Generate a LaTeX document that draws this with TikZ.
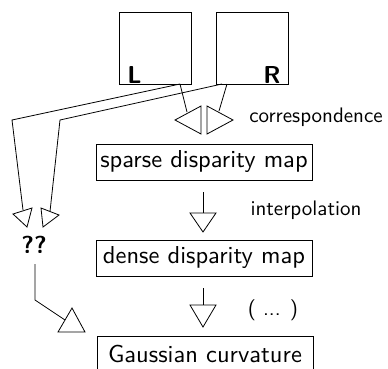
\documentclass[tikz,border=0pt]{standalone}
\usepackage{graphicx}
\newcommand{\boxtxt}[1]{\scalebox{2.45}{\sffamily\fontsize{10}{12}\selectfont #1}}
\newcommand{\lbltxt}[1]{\scalebox{2.1}{\sffamily\fontsize{10}{12}\selectfont #1}}
\newcommand{\bigtxt}[1]{\scalebox{2.45}{\sffamily\bfseries\fontsize{10}{12}\selectfont #1}}
\begin{document}
\begin{tikzpicture}[x=1pt,y=-1pt, line width=0.8pt, line join=miter,
  img/.style={draw, minimum width=72pt, minimum height=72pt, inner sep=0pt},
  mapbox/.style={draw, minimum width=216pt, minimum height=36pt, inner sep=0pt},
  lbl/.style={inner sep=0pt},
  big/.style={inner sep=0pt}]
\useasboundingbox (0,0) rectangle (388,368);
% images
\node[img] (L) at (155,48) {};
\node[img] (R) at (252,48) {};
\node[big, anchor=base west] (Lt) at (127,83) {\bigtxt{L}};
\node[big, anchor=base east] (Rt) at (281,83) {\bigtxt{R}};
% boxes
\node[mapbox] (sparse) at (204,162) {\boxtxt{sparse disparity map}};
\node[mapbox] (dense) at (204,258) {\boxtxt{dense disparity map}};
\node[mapbox] (gauss) at (205,354) {\boxtxt{Gaussian curvature}};
% labels
\node[lbl] (corr) at (316,117) {\lbltxt{correspondence}};
\node[lbl] (interp) at (306,210) {\lbltxt{interpolation}};
\node[lbl] (dots) at (273,310) {\lbltxt{( ... )}};
\node[big] (qq) at (34,245) {\bigtxt{??}};
% coordinates
\coordinate (la) at (180,84);
\coordinate (ra) at (227,84);
\coordinate (lb) at (222,84);
\coordinate (sl) at (187,112);
\coordinate (sr) at (219,111);
\coordinate (cA) at (12,120);
\coordinate (eA) at (23,210);
\coordinate (cB) at (60,120);
\coordinate (eB) at (50,211.5);
\coordinate (q1) at (35,264);
\coordinate (q2) at (35,300);
\coordinate (q3) at (65,320);
\coordinate (s1) at (203,192);
\coordinate (s2) at (203,213);
\coordinate (d1) at (203,288);
\coordinate (d2) at (203,305);
% connectors
\draw (la) -- (sl);
\draw (ra) -- (sr);
\draw (la) -- (cA) -- (eA);
\draw (lb) -- (cB) -- (eB);
\draw (q1) -- (q2) -- (q3);
\draw (s1) -- (s2);
\draw (d1) -- (d2);
% arrowheads
\draw (175,120) -- (201,106) -- (201,134) -- cycle;
\draw (233,120) -- (207,106) -- (207,134) -- cycle;
\draw (13,214) -- (32,208) -- (27,227) -- cycle;
\draw (41,208) -- (59,215) -- (43,227) -- cycle;
\draw (58,332) -- (85,332) -- (72,308) -- cycle;
\draw (190,213) -- (216,213) -- (203,232) -- cycle;
\draw (190,305) -- (216,305) -- (203,327) -- cycle;
\end{tikzpicture}
\end{document}
